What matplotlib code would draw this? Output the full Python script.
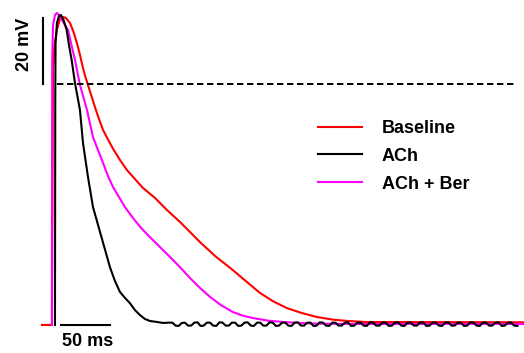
import numpy as np
import matplotlib
matplotlib.use("Agg")
import matplotlib.pyplot as plt

plt.rcParams["font.family"] = ["Liberation Sans", "DejaVu Sans"]
plt.rcParams["lines.scale_dashes"] = False

# time in ms, membrane potential in mV
baseline_t = [-13.3, -3.1, -2.6, -2.0, -0.5, 2.0, 5.1, 8.2, 11.2, 15.3, 18.9,
              22.4, 25.5, 28.6, 31.1, 33.7, 37.2, 40.8, 44.9, 49.0, 54.1,
              59.2, 66.3, 73.5, 81.6, 89.8, 102.0, 114.3, 127.6, 148.0, 163.3,
              181.6, 195.9, 209.2, 222.4, 236.7, 252.0, 267.3, 283.7, 299.0,
              316.3, 478.6]
baseline_v = [-73.0, -73.0, -35.2, 4.2, 11.8, 16.4, 19.7, 20.3, 20.0, 18.5,
              15.8, 12.4, 8.8, 4.8, 2.1, -0.3, -3.6, -7.0, -10.6, -13.9, -16.8,
              -19.6, -23.0, -26.1, -28.8, -31.5, -34.5, -38.2, -41.8, -47.9,
              -52.1, -56.4, -60.0, -63.3, -65.8, -67.9, -69.4, -70.6, -71.4,
              -71.8, -72.1, -72.2]

ach_t = [0.0, 0.3, 0.6, 2.0, 4.1, 6.1, 8.7, 11.9, 14.3, 17.0, 20.4, 25.5,
         28.6, 33.7, 38.8, 45.9, 51.0, 56.1, 61.2, 66.3, 71.4, 76.5, 81.6,
         86.7, 91.8, 96.9, 104.1, 110.2]
ach_v = [-73.0, -4.8, 12.4, 18.5, 20.6, 20.9, 19.4, 16.4, 11.8, 7.3, 0.3,
         -7.9, -17.9, -28.2, -37.3, -44.8, -50.3, -55.5, -59.7, -63.0, -64.8,
         -66.4, -68.5, -70.0, -71.2, -71.8, -72.1, -72.4]
# small ripple on the ACh resting potential
ach_tail_v = [
    -72.3, -72.3, -73.2, -73.3, -72.4, -72.3, -73.2, -73.2,
    -72.3, -72.2, -73.3, -73.2, -72.3, -72.3, -73.2, -73.3,
    -72.2, -72.3, -73.2, -73.2, -72.3, -72.3, -73.3, -73.2,
    -72.3, -72.2, -73.2, -73.3, -72.3, -72.3, -73.2, -73.2,
    -72.2, -72.3, -73.3, -73.2, -72.3, -72.3, -73.2, -73.3,
    -72.3, -72.2, -73.2, -73.2, -72.3, -72.3, -73.3, -73.2,
    -72.2, -72.3, -73.2, -73.3, -72.3, -72.3, -73.2, -73.2,
    -72.3, -72.2, -73.3, -73.2, -72.3, -72.3, -73.2, -73.3,
    -72.2, -72.3, -73.2, -73.2, -72.3, -72.3, -73.3, -73.2,
    -72.3, -72.2, -73.2, -73.3, -72.3, -72.3, -73.2, -73.2,
    -72.2, -72.3, -73.3, -73.2, -72.3, -72.3, -73.2, -73.3,
    -72.3, -72.2, -73.2, -73.2, -72.3, -72.3, -73.3, -73.2,
    -72.2, -72.3, -73.2, -73.3, -72.3, -72.3, -73.2, -73.2,
    -72.3, -72.2, -73.3, -73.2, -72.3, -72.3, -73.2, -73.3,
]

ber_t = [-3.1, -3.0, -2.8, -2.0, 0.0, 2.0, 4.1, 7.1, 10.2, 13.3, 16.8, 20.4,
         25.5, 32.7, 38.8, 43.9, 49.0, 54.1, 59.2, 71.4, 79.6, 87.8, 96.9,
         107.1, 117.3, 127.6, 137.8, 148.0, 158.2, 169.4, 181.6, 191.8, 202.0,
         217.3, 232.7, 250.0, 267.3, 301.0, 478.6]
ber_v = [-73.0, -35.0, 7.3, 17.9, 20.9, 21.5, 20.9, 19.4, 17.9, 16.4, 11.8,
         7.3, -0.3, -7.9, -16.1, -20.0, -23.9, -27.9, -31.2, -37.3, -40.6,
         -43.6, -46.4, -49.4, -52.4, -55.5, -58.8, -61.8, -64.5, -67.0, -69.1,
         -70.2, -70.9, -71.7, -72.1, -72.4, -72.6, -72.7, -72.7]

labels = ["Baseline", "ACh", "ACh + Ber"]
colors = ["#ff0000", "#000000", "#ff00ff"]

# 49 px = 50 ms, 66 px = 20 mV
fig = plt.figure(figsize=(5.24, 3.53), dpi=100)
ax = fig.add_axes([0, 0, 1, 1])
ax.set_xlim(-56.1, 478.6)
ax.set_ylim(-81.5, 25.45)
ax.axis("off")

black_tail_t = 116.6 + 3.2 * np.arange(len(ach_tail_v))

h_red, = ax.plot(baseline_t, baseline_v, color=colors[0], lw=1.5)
h_mag, = ax.plot(ber_t, ber_v, color=colors[2], lw=1.5)
h_blk, = ax.plot(list(ach_t) + list(black_tail_t), ach_v + ach_tail_v,
                 color=colors[1], lw=1.5)

# 0 mV reference line
ax.plot([2.0, 471.0], [0, 0], color="black", lw=1.4, dashes=(4.6, 2.6))

# scale bars
ax.plot([-12.2, -12.2], [0, 20], color="black", lw=1.5)
ax.plot([6.1, 56.1], [-73.0, -73.0], color="black", lw=1.5)
ax.text(-31.1, 12.1, "20 mV", rotation=90, ha="center", va="center",
        fontsize=13, fontweight="bold")
ax.text(33.7, -78.0, "50 ms", ha="center", va="center",
        fontsize=13, fontweight="bold")

ax.legend([h_red, h_blk, h_mag], labels, loc="upper left",
          bbox_to_anchor=(318 / 524, 1 - 119.9 / 353), frameon=False,
          borderpad=0, borderaxespad=0, handlelength=2.44, handletextpad=1.1,
          labelspacing=0.6, prop={"size": 13, "weight": "bold"})

plt.savefig("out.png", dpi=100)
plt.close()
